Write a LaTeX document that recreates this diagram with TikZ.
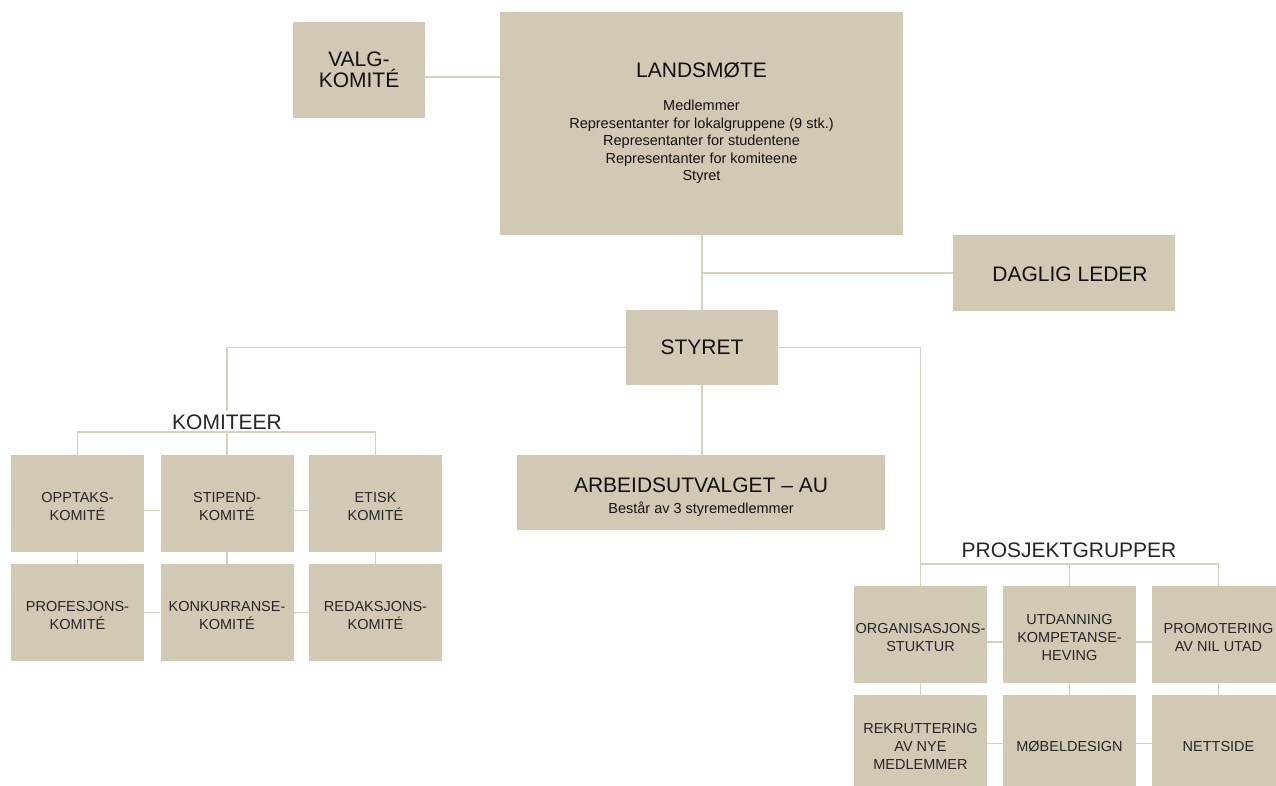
\documentclass[tikz,border=0pt]{standalone}
\usepackage{fontspec}
\setmainfont{Liberation Sans}
\definecolor{beige}{HTML}{D2C9B4}
\definecolor{linec}{HTML}{D8CFBE}
\definecolor{ink}{HTML}{111111}
\definecolor{ink2}{HTML}{262626}
\newcommand{\obox}[4]{%
  \node[sbox] (#1) at (#2,#3) {};
  \node[btext] (#1t) at ([yshift=-3pt]#1.center) {#4};}
\begin{document}
\begin{tikzpicture}[x=1pt,y=-1pt,
  box/.style={fill=beige, draw=none, inner sep=0pt, align=center, text=ink2,
    font=\fontsize{14.5}{18}\selectfont},
  sbox/.style={box, minimum width=133pt, minimum height=97pt},
  btext/.style={inner sep=0pt, align=center, text=ink2, font=\fontsize{14.5}{18}\selectfont},
  big/.style={font=\fontsize{21}{21}\selectfont, text=ink},
  head/.style={font=\fontsize{21}{21}\selectfont, text=ink2, inner sep=0pt, outer ysep=3pt},
  small/.style={font=\fontsize{14.5}{17.5}\selectfont, text=ink, inner sep=0pt},
  conn/.style={draw=linec, line width=1.3pt}]
\useasboundingbox (0,0) rectangle (1276,785);
\fill[white] (0,0) rectangle (1276,785);

% top level
\node[box, big, minimum width=132pt, minimum height=96pt] (valg) at (359,70) {VALG-\\KOMITÉ};
\node[box, minimum width=403pt, minimum height=223pt] (lm) at (701.5,123.5) {};
\node[big, anchor=base, inner sep=0pt] (lmt) at (701.5,77) {LANDSMØTE};
\node[small, anchor=base] (l1) at (701.5,110.5) {Medlemmer};
\node[small, anchor=base] (l2) at (701.5,128) {Representanter for lokalgruppene (9 stk.)};
\node[small, anchor=base] (l3) at (701.5,145.5) {Representanter for studentene};
\node[small, anchor=base] (l4) at (701.5,163) {Representanter for komiteene};
\node[small, anchor=base] (l5) at (701.5,180) {Styret};

\node[box, minimum width=222pt, minimum height=76pt] (dl) at (1064,273) {};
\node[big, anchor=base, inner sep=0pt] (dlt) at (1070,281) {DAGLIG LEDER};

\node[box, big, minimum width=152pt, minimum height=75pt] (sty) at (702,347.5) {STYRET};

\node[box, minimum width=368pt, minimum height=75pt] (au) at (701,492.5) {};
\node[big, anchor=base, inner sep=0pt] (aut) at (701,492) {ARBEIDSUTVALGET – AU};
\node[small, anchor=base] (aus) at (701,513) {Består av 3 styremedlemmer};

% komiteer
\node[head, anchor=base] (kom) at (227,429) {KOMITEER};
\coordinate (kbar) at (227,432);
\obox{opt}{77.5}{503.5}{OPPTAKS-\\KOMITÉ}
\obox{sti}{227}{503.5}{STIPEND-\\KOMITÉ}
\obox{eti}{375.5}{503.5}{ETISK\\KOMITÉ}
\obox{pro}{77.5}{612.5}{PROFESJONS-\\KOMITÉ}
\obox{kon}{227}{612.5}{KONKURRANSE-\\KOMITÉ}
\obox{red}{375.5}{612.5}{REDAKSJONS-\\KOMITÉ}

% prosjektgrupper
\node[head, anchor=base] (pg) at (1069,557) {PROSJEKTGRUPPER};
\coordinate (pbar) at (1069.5,564);
\obox{org}{920.5}{634.5}{ORGANISASJONS-\\STUKTUR}
\obox{utd}{1069.5}{634.5}{UTDANNING\\KOMPETANSE-\\HEVING}
\obox{prm}{1218.5}{634.5}{PROMOTERING\\AV NIL UTAD}
\obox{rek}{920.5}{743.5}{REKRUTTERING\\AV NYE\\MEDLEMMER}
\obox{mob}{1069.5}{743.5}{MØBELDESIGN}
\obox{net}{1218.5}{743.5}{NETTSIDE}

% connectors
\draw[conn] ([yshift=-7pt]valg.east) -- ([yshift=-7pt]valg.east -| lm.west);
\draw[conn] (sty.north |- lm.south) -- (sty.north);
\draw[conn] (dl.west) -- (dl.west -| sty.north);
\draw[conn] (sty.south) -- (sty.south |- au.north);
\draw[conn] (sty.west) -| (kom.north);
\draw[conn] (opt.north) |- (kbar) -| (eti.north);
\draw[conn] (kbar) -- (sti.north);
\draw[conn] ([yshift=-7pt]opt.east) -- ([yshift=-7pt]sti.west);
\draw[conn] ([yshift=-7pt]sti.east) -- ([yshift=-7pt]eti.west);
\draw[conn] (pro.east) -- (kon.west);
\draw[conn] (kon.east) -- (red.west);
\draw[conn] (opt.south) -- (pro.north);
\draw[conn] (sti.south) -- (kon.north);
\draw[conn] (eti.south) -- (red.north);
\draw[conn] (sty.east) -| (org.north);
\draw[conn] (org.north |- pbar) -| (prm.north);
\draw[conn] (pbar) -- (utd.north);
\draw[conn] ([yshift=-7.5pt]org.east) -- ([yshift=-7.5pt]utd.west);
\draw[conn] ([yshift=-7.5pt]utd.east) -- ([yshift=-7.5pt]prm.west);
\draw[conn] (rek.east) -- (mob.west);
\draw[conn] (mob.east) -- (net.west);
\draw[conn] (org.south) -- (rek.north);
\draw[conn] (utd.south) -- (mob.north);
\draw[conn] (prm.south) -- (net.north);
\end{tikzpicture}
\end{document}
